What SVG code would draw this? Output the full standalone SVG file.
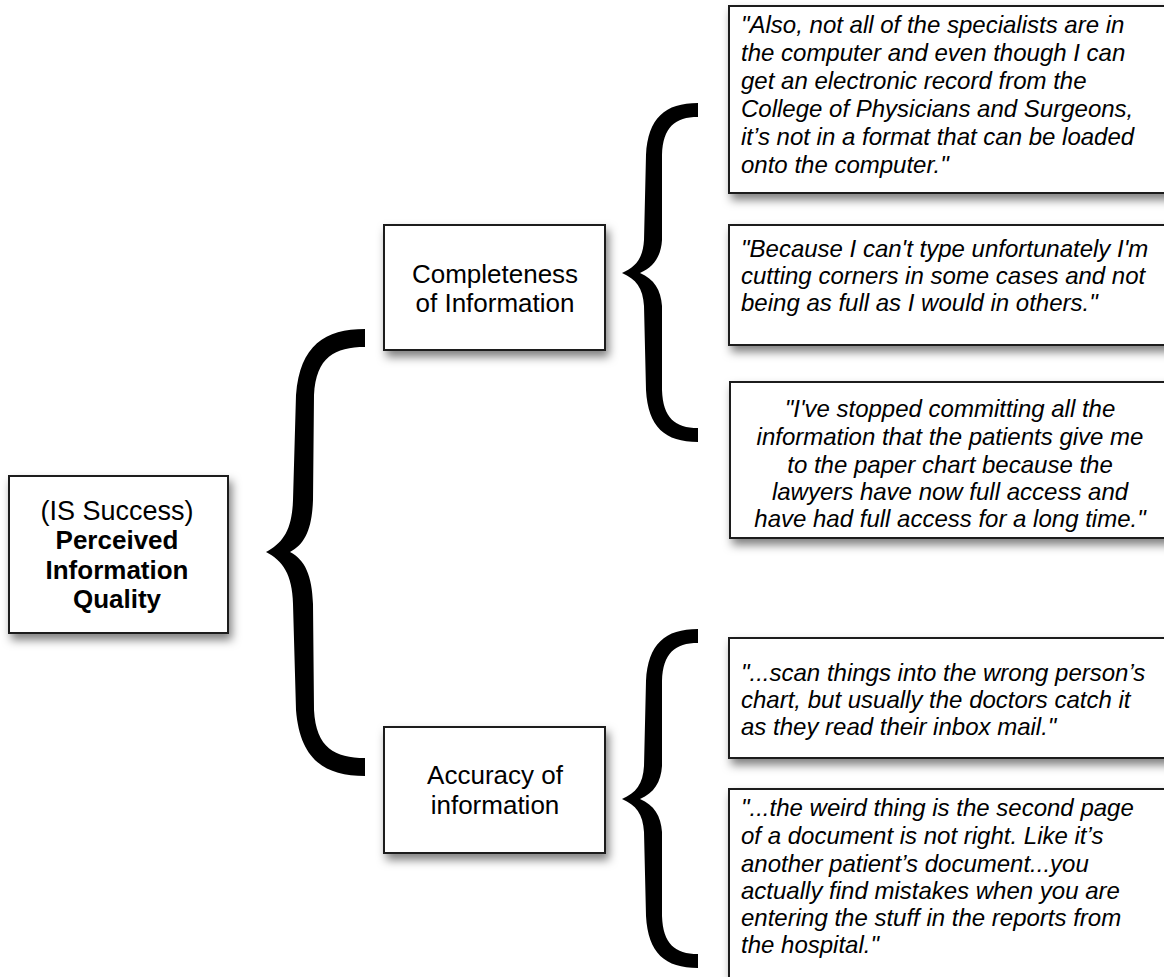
<svg xmlns="http://www.w3.org/2000/svg" xmlns:xlink="http://www.w3.org/1999/xlink" width="1164" height="977" viewBox="0 0 1164 977">
  <style>
    .box { fill: #ffffff; stroke: #1a1a1a; stroke-width: 2; filter: url(#shadow); }
    .node { font-family: "Liberation Sans", Arial, sans-serif; font-size: 26px; fill: #000; text-anchor: middle; }
    .big { font-size: 27px; }
    .bold { font-weight: bold; font-size: 26px; }
    .quote { font-family: "Liberation Sans", Arial, sans-serif; font-size: 24px; font-style: italic; fill: #000; }
    .brace { fill: #000; }
  </style>
  <defs>
    <filter id="shadow" x="-10%" y="-10%" width="125%" height="135%">
      <feDropShadow dx="3" dy="6" stdDeviation="5" flood-color="#000" flood-opacity="0.5"/>
    </filter>
    <path id="smallBrace" d="M698,103 C665,103 648,118 646,155 L644,240 C643,258 636,267 622,273 C636,279 643,288 644,306 L646,390 C648,427 665,442 698,442 L698,428 C675,428 663,418 662,390 L662,306 C661,290 654,279 640,273 C654,267 661,256 662,240 L662,155 C663,127 675,117 698,117 Z"/>
  </defs>
  <rect width="1164" height="977" fill="#ffffff"/>

  <g id="connectors">
    <path class="brace" d="M365,329 C325,329 300,345 296,395 L293,500 C292,530 283,543 266,552 C283,561 292,574 293,604 L296,710 C300,760 325,776 365,776 L365,758 C335,758 316,748 314,710 L313,604 C312,575 305,560 290,552 C305,544 312,529 313,500 L314,395 C316,357 335,347 365,347 Z"/>
    <use class="brace" xlink:href="#smallBrace" href="#smallBrace"/>
    <use class="brace" xlink:href="#smallBrace" href="#smallBrace" transform="translate(0,526)"/>
  </g>

  <g id="node-quality">
    <rect class="box" x="9" y="476" width="219" height="157"/>
    <text class="node big" x="117" y="520">(IS Success)</text>
    <text class="node bold" x="117" y="549">Perceived</text>
    <text class="node bold" x="117" y="579">Information</text>
    <text class="node bold" x="117" y="608">Quality</text>
  </g>

  <g id="node-completeness">
    <rect class="box" x="384" y="225" width="221" height="125"/>
    <text class="node" x="495" y="283">Completeness</text>
    <text class="node" x="495" y="312">of Information</text>
  </g>

  <g id="node-accuracy">
    <rect class="box" x="384" y="727" width="221" height="126"/>
    <text class="node" x="495" y="784">Accuracy of</text>
    <text class="node" x="495" y="814">information</text>
  </g>

  <g id="quote-1">
    <rect class="box" x="729" y="6" width="445" height="187"/>
    <text class="quote" x="741" y="33">"Also, not all of the specialists are in</text>
    <text class="quote" x="741" y="61">the computer and even though I can</text>
    <text class="quote" x="741" y="89">get an electronic record from the</text>
    <text class="quote" x="741" y="117">College of Physicians and Surgeons,</text>
    <text class="quote" x="741" y="145">it’s not in a format that can be loaded</text>
    <text class="quote" x="741" y="173">onto the computer."</text>
  </g>

  <g id="quote-2">
    <rect class="box" x="729" y="225" width="445" height="120"/>
    <text class="quote" x="741" y="257">"Because I can't type unfortunately I'm</text>
    <text class="quote" x="741" y="284">cutting corners in some cases and not</text>
    <text class="quote" x="741" y="311">being as full as I would in others."</text>
  </g>

  <g id="quote-3">
    <rect class="box" x="730" y="382" width="444" height="156"/>
    <text class="quote" x="950" y="417" text-anchor="middle">"I've stopped committing all the</text>
    <text class="quote" x="950" y="445" text-anchor="middle">information that the patients give me</text>
    <text class="quote" x="950" y="473" text-anchor="middle">to the paper chart because the</text>
    <text class="quote" x="950" y="500" text-anchor="middle">lawyers have now full access and</text>
    <text class="quote" x="950" y="527" text-anchor="middle">have had full access for a long time."</text>
  </g>

  <g id="quote-4">
    <rect class="box" x="729" y="638" width="445" height="120"/>
    <text class="quote" x="741" y="681">"...scan things into the wrong person’s</text>
    <text class="quote" x="741" y="708">chart, but usually the doctors catch it</text>
    <text class="quote" x="741" y="735">as they read their inbox mail."</text>
  </g>

  <g id="quote-5">
    <rect class="box" x="729" y="789" width="445" height="200"/>
    <text class="quote" x="741" y="816">"...the weird thing is the second page</text>
    <text class="quote" x="741" y="844">of a document is not right. Like it’s</text>
    <text class="quote" x="741" y="872">another patient’s document...you</text>
    <text class="quote" x="741" y="899">actually find mistakes when you are</text>
    <text class="quote" x="741" y="926">entering the stuff in the reports from</text>
    <text class="quote" x="741" y="953">the hospital."</text>
  </g>
</svg>
